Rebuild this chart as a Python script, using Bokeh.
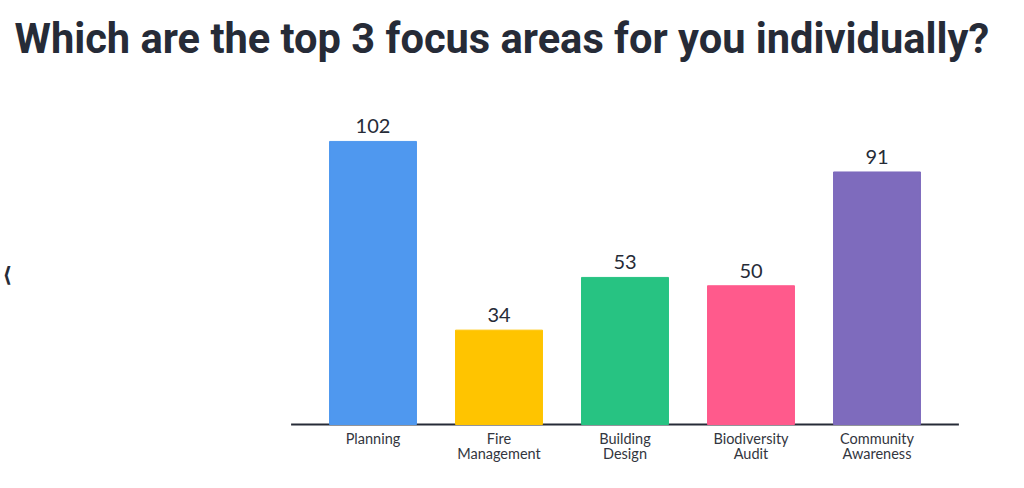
from bokeh.plotting import figure
from bokeh.models import Range1d, Label, ColumnDataSource
from bokeh.core.properties import value
from bokeh.embed import file_html
from bokeh.resources import INLINE

categories = ["Planning", "Fire Management", "Building Design", "Biodiversity Audit", "Community Awareness"]
tick_labels = ["Planning", "Fire\nManagement", "Building\nDesign", "Biodiversity\nAudit", "Community\nAwareness"]
counts = [102, 34, 53, 50, 91]
colors = ["#4F98EF", "#FFC400", "#27C382", "#FF5A8C", "#7E6BBD"]
title_text = "Which are the top 3 focus areas for you individually?"

DARK = "#262B37"
W, H = 1024, 488
SLOT = 126.0           # px per category
X0 = 372.5             # px of first category centre
Y0 = 424.0             # px of baseline (from top)
PXU = 2.775            # px per count unit

idx = list(range(len(categories)))
src = ColumnDataSource(dict(x=idx, cat=categories, tick=tick_labels, n=counts, c=colors,
                            lbl=[str(v) for v in counts], zero=[0] * len(counts)))

p = figure(width=W, height=H, output_backend="svg", toolbar_location=None,
           x_range=Range1d(-X0 / SLOT, (W - X0) / SLOT),
           y_range=Range1d(-(H - Y0) / PXU, Y0 / PXU),
           min_border=0)
p.axis.visible = False
p.outline_line_color = None
p.background_fill_color = "white"
p.border_fill_color = "white"
p.grid.visible = False

# baseline axis line
p.segment(x0=[-0.65], y0=[0], x1=[len(categories) - 1 + 0.65], y1=[0], line_color=DARK, line_width=2)

p.vbar(x="x", top="n", width=0.69, color="c", source=src)

p.text(x="x", y="n", text="lbl", source=src, text_align="center", text_baseline="bottom",
       y_offset=-8, text_font=value("Lato"), text_font_size="20px", text_color=DARK)

p.text(x="x", y="zero", text="tick", source=src, text_align="center", text_baseline="top",
       y_offset=5, text_font=value("Lato"), text_font_size="14.5px", text_color="#333640",
       text_line_height=0.92)

p.add_layout(Label(x=14, y=H - 38, x_units="screen", y_units="screen", text=title_text,
                   text_font="Roboto", text_font_style="bold", text_font_size="41.6px",
                   text_color=DARK, text_baseline="alphabetic"))

p.add_layout(Label(x=2, y=H - 274, x_units="screen", y_units="screen", text="\u27e8",
                   text_font="DejaVu Sans", text_font_size="21px", text_font_style="bold",
                   text_color=DARK, text_baseline="middle", text_align="left"))

open("out.html", "w").write(file_html(p, INLINE))
